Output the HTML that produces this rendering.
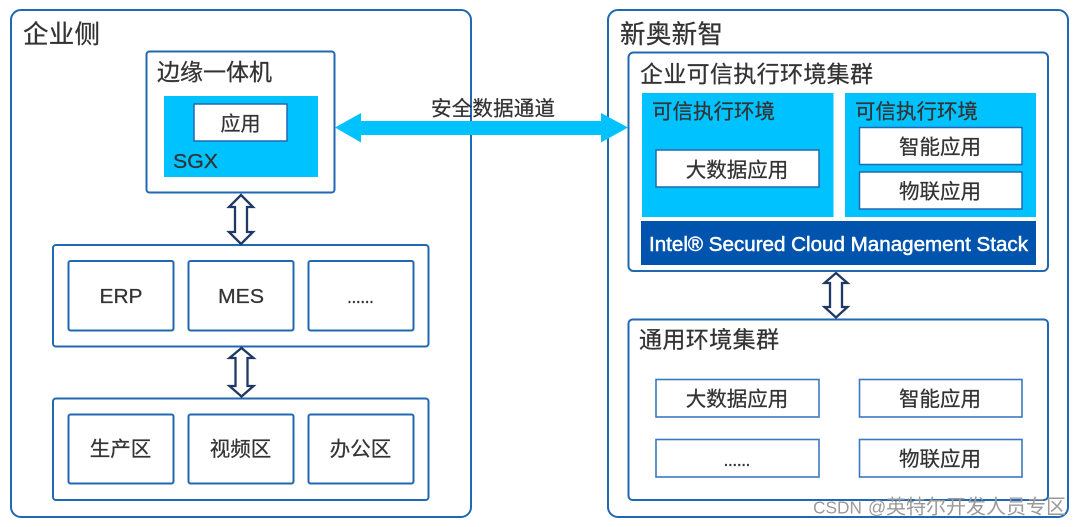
<!DOCTYPE html>
<html><head><meta charset="utf-8">
<style>
html,body{margin:0;padding:0;background:#fff}
svg{display:block}
text{font-family:"Liberation Sans","Noto Sans CJK SC",sans-serif;fill:#333;stroke:#333;stroke-width:.25}
.o{fill:#fff;stroke:#2068b2;stroke-width:2}
.i{fill:#fff;stroke:#2068b2;stroke-width:2}
.s{fill:#fff;stroke:#2068b2;stroke-width:1.5}
.t{fill:#fff;stroke:#3b78c0;stroke-width:1.6}
.h{fill:#fff;stroke:#1f3864;stroke-width:2.3;stroke-linejoin:miter}
</style></head><body>
<svg width="1080" height="527" viewBox="0 0 1080 527" xmlns="http://www.w3.org/2000/svg">
<rect width="1080" height="527" fill="#fff"/>
<rect class="o" x="11" y="10" width="460" height="507" rx="10"/>
<rect class="o" x="608" y="10" width="460" height="507" rx="10"/>

<text x="23" y="43" font-size="25.5" textLength="77">企业侧</text>
<text x="620" y="43" font-size="25.5" textLength="103">新奥新智</text>
<rect class="i" x="146.5" y="51.5" width="188" height="141" rx="3"/>
<text x="157" y="80" font-size="23" textLength="115">边缘一体机</text>
<rect x="164" y="96" width="154" height="81" fill="#00c2ff"/>
<rect class="s" x="194" y="104" width="93" height="37"/>
<text x="240.500" y="130.500" font-size="20" text-anchor="middle">应用</text>
<text x="173" y="168" font-size="20.500" textLength="45" lengthAdjust="spacingAndGlyphs">SGX</text>

<rect class="i" x="53" y="245" width="375.500" height="101.500" rx="3"/>
<rect class="i" x="68.500" y="261" width="105" height="69.500" rx="2"/>
<rect class="i" x="188.500" y="261" width="105" height="69.500" rx="2"/>
<rect class="i" x="308.500" y="261" width="105" height="69.500" rx="2"/>
<text x="121" y="303" font-size="20.500" text-anchor="middle" textLength="43" lengthAdjust="spacingAndGlyphs">ERP</text>
<text x="241" y="303" font-size="20.500" text-anchor="middle" textLength="46" lengthAdjust="spacingAndGlyphs">MES</text>
<text x="360.500" y="303" font-size="18" text-anchor="middle" textLength="27">......</text>

<rect class="i" x="53" y="398.500" width="375.500" height="101.500" rx="3"/>
<rect class="i" x="68.500" y="414.500" width="105" height="69" rx="2"/>
<rect class="i" x="188.500" y="414.500" width="105" height="69" rx="2"/>
<rect class="i" x="308.500" y="414.500" width="105" height="69" rx="2"/>
<text x="120.500" y="456" font-size="20.500" text-anchor="middle">生产区</text>
<text x="240.500" y="456" font-size="20.500" text-anchor="middle">视频区</text>
<text x="360.500" y="456" font-size="20.500" text-anchor="middle">办公区</text>

<path class="h" d="M241 195 L253 207 L247 207 L247 232 L253 232 L241 244 L229 232 L235 232 L235 207 L229 207 Z"/>
<path class="h" d="M241.500 348 L253.500 358 L247.500 358 L247.500 386 L253.500 386 L241.500 396.500 L229.500 386 L235.500 386 L235.500 358 L229.500 358 Z"/>
<path class="h" d="M836 273 L847.500 283 L842 283 L842 307 L847.500 307 L836 317.500 L824.500 307 L830 307 L830 283 L824.500 283 Z"/>

<rect class="i" x="628.500" y="52.500" width="419.500" height="218.500" rx="5"/>
<text x="640" y="82" font-size="23" textLength="233">企业可信执行环境集群</text>
<rect x="642" y="93" width="191.500" height="124" fill="#00c2ff"/>
<rect x="845" y="93" width="191" height="124" fill="#00c2ff"/>
<rect x="641" y="221" width="395" height="44" fill="#0054ae"/>
<text x="652" y="118.500" font-size="20.500" textLength="123">可信执行环境</text>
<text x="855" y="118.500" font-size="20.500" textLength="123">可信执行环境</text>
<rect class="s" x="656" y="150" width="163" height="37"/>
<rect class="s" x="859.500" y="127.500" width="162.500" height="37"/>
<rect class="s" x="859.500" y="172" width="162.500" height="37"/>
<text x="737" y="177" font-size="20.500" text-anchor="middle">大数据应用</text>
<text x="940" y="154" font-size="20.500" text-anchor="middle">智能应用</text>
<text x="940" y="198.500" font-size="20.500" text-anchor="middle">物联应用</text>
<text x="649" y="251" font-size="20" textLength="379" lengthAdjust="spacingAndGlyphs" style="fill:#fff;stroke:#fff;stroke-width:.5">Intel® Secured Cloud Management Stack</text>

<rect class="i" x="628.500" y="319.500" width="419.500" height="180.500" rx="4"/>
<text x="639" y="347.500" font-size="23" textLength="140">通用环境集群</text>
<rect class="t" x="656" y="379.500" width="163" height="37.500"/>
<rect class="t" x="859.500" y="379.500" width="162.500" height="37.500"/>
<rect class="t" x="656" y="439.500" width="163" height="37.500"/>
<rect class="t" x="859.500" y="439.500" width="162.500" height="37.500"/>
<text x="737" y="406" font-size="20.500" text-anchor="middle">大数据应用</text>
<text x="940" y="406" font-size="20.500" text-anchor="middle">智能应用</text>
<text x="737" y="466" font-size="18" text-anchor="middle" textLength="27">......</text>
<text x="940" y="466" font-size="20.500" text-anchor="middle">物联应用</text>

<path d="M335 127.500 L361 113 L361 121 L601 121 L601 113 L628 127.500 L601 142.500 L601 135 L361 135 L361 142.500 Z" fill="#00c2ff"/>
<text x="431" y="115.500" font-size="20.500" textLength="124">安全数据通道</text>

<text x="813" y="513.500" font-size="17.500" style="fill:#9a9a9a;stroke:none" textLength="49" lengthAdjust="spacingAndGlyphs">CSDN</text>
<text x="868" y="513.500" font-size="18" style="fill:#9a9a9a;stroke:none">@</text>
<text x="886" y="513.500" font-size="20" style="fill:#9a9a9a;stroke:none" textLength="180">英特尔开发人员专区</text>
</svg>
</body></html>
